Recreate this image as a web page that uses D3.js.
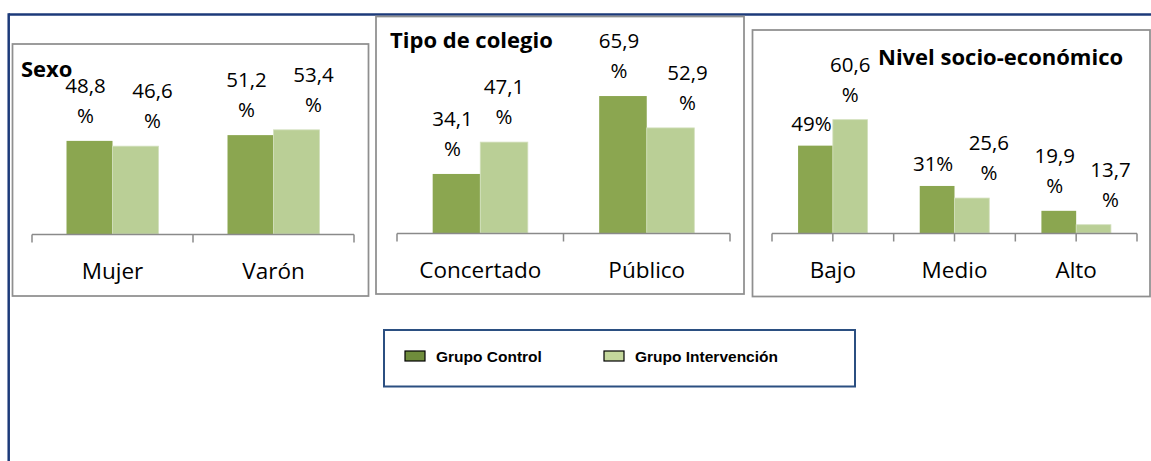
<!DOCTYPE html>
<html>
<head>
<meta charset="utf-8">
<script src="https://cdn.jsdelivr.net/npm/d3@7"></script>
<style>
  html, body { margin: 0; padding: 0; background: #fff; }
  svg { display: block; }
</style>
</head>
<body>
<svg id="chart" width="1151" height="461"></svg>
<script>
// ---------- DATA ----------
const seriesNames = ["Grupo Control", "Grupo Intervención"];
const panelTitles = ["Sexo", "Tipo de colegio", "Nivel socio-económico"];

const categoriesSexo = ["Mujer", "Varón"];
const controlSexo = [48.8, 51.2];
const intervencionSexo = [46.6, 53.4];

const categoriesColegio = ["Concertado", "Público"];
const controlColegio = [34.1, 65.9];
const intervencionColegio = [47.1, 52.9];

const categoriesNivel = ["Bajo", "Medio", "Alto"];
const controlNivel = [49, 31, 19.9];
const intervencionNivel = [60.6, 25.6, 13.7];

const axisMin = [10, 10, 10];
const axisMax = [60, 70, 70];

// ---------- STYLE / LAYOUT ----------
const colors = ["#8ba650", "#bacf96"];
const legendColors = ["#6f8c3c", "#c4d79c"];
const navy = "#1c3a7a";
const boxGrey = "#8f8f8f";
const axisGrey = "#8a8a8a";

const panels = [
  { title: panelTitles[0], cats: categoriesSexo, ctrl: controlSexo, intv: intervencionSexo,
    box: [12.5, 44, 368.5, 296], xr: [32, 354], yr: [234, 114], titlePos: [21, 77], centerTicks: false },
  { title: panelTitles[1], cats: categoriesColegio, ctrl: controlColegio, intv: intervencionColegio,
    box: [376, 16.5, 744, 294], xr: [397, 730], yr: [233, 86], titlePos: [390, 48], centerTicks: false },
  { title: panelTitles[2], cats: categoriesNivel, ctrl: controlNivel, intv: intervencionNivel,
    box: [752.5, 30, 1150, 296.5], xr: [772, 1137], yr: [233, 98.6], titlePos: [878, 65], centerTicks: true }
];

const svg = d3.select("#chart");
svg.append("rect").attr("width", 1151).attr("height", 461).attr("fill", "#fff");

// outer navy frame (top and left)
svg.append("line").attr("x1", 8.7).attr("x2", 1151).attr("y1", 14.5).attr("y2", 14.5)
  .attr("stroke", navy).attr("stroke-width", 2.5);
svg.append("line").attr("x1", 8.7).attr("x2", 8.7).attr("y1", 13.3).attr("y2", 461)
  .attr("stroke", navy).attr("stroke-width", 2.5);

const fmt = v => Number.isInteger(v) ? [v + "%"] : [v.toFixed(1).replace(".", ","), "%"];
const GAP = 0.4286; // Excel gap width 150%

panels.forEach((p, pi) => {
  const g = svg.append("g");
  const [bx0, by0, bx1, by1] = p.box;
  g.append("rect").attr("x", bx0).attr("y", by0).attr("width", bx1 - bx0).attr("height", by1 - by0)
    .attr("fill", "#fff").attr("stroke", boxGrey).attr("stroke-width", 1.75);

  const x0 = d3.scaleBand().domain(p.cats).range(p.xr).paddingInner(GAP).paddingOuter(GAP / 2);
  const x1 = d3.scaleBand().domain([0, 1]).range([0, x0.bandwidth()]);
  const y = d3.scaleLinear().domain([axisMin[pi], axisMax[pi]]).range(p.yr);

  const rows = p.cats.map((c, i) => ({ cat: c, vals: [p.ctrl[i], p.intv[i]] }));

  // bars
  rows.forEach(r => {
    r.vals.forEach((v, s) => {
      g.append("rect")
        .attr("x", x0(r.cat) + x1(s))
        .attr("y", y(v))
        .attr("width", x1.bandwidth())
        .attr("height", y(axisMin[pi]) - y(v))
        .attr("fill", colors[s])
        .attr("stroke", s === 1 ? "#d3e0bd" : "none")
        .attr("stroke-width", s === 1 ? 0.8 : 0);
    });
  });

  // axis line + ticks
  const axisY = y(axisMin[pi]) + 0.5;
  g.append("line").attr("x1", p.xr[0]).attr("x2", p.xr[1]).attr("y1", axisY).attr("y2", axisY)
    .attr("stroke", axisGrey).attr("stroke-width", 1.5);
  const step = x0.step();
  const tickXs = d3.range(p.cats.length + 1).map(i => p.xr[0] + i * step);
  if (p.centerTicks) p.cats.forEach(c => tickXs.push(x0(c) + x0.bandwidth() / 2));
  tickXs.forEach(tx => {
    g.append("line").attr("x1", tx).attr("x2", tx).attr("y1", axisY).attr("y2", axisY + 8)
      .attr("stroke", axisGrey).attr("stroke-width", 1.5);
  });

  // category labels via d3 axis
  const ax = g.append("g").attr("transform", `translate(0,${axisY})`)
    .call(d3.axisBottom(x0).tickSize(0).tickPadding(0));
  ax.select(".domain").remove();
  ax.selectAll("text")
    .attr("dy", null).attr("y", 44)
    .attr("font-family", "'Open Sans', sans-serif").attr("font-size", 22.5).attr("fill", "#000");

  // data labels
  rows.forEach(r => {
    r.vals.forEach((v, s) => {
      const lines = fmt(v);
      let dx = s === 0 ? -4 : 17;
      if (s === 1 && r.vals[1] - r.vals[0] > 8) dx = 0;
      const cx = x0(r.cat) + x1(s) + x1.bandwidth() / 2 + dx;
      const top = y(v);
      const t = g.append("text")
        .attr("text-anchor", "middle")
        .attr("font-family", "'Open Sans', sans-serif").attr("font-size", 20.5).attr("fill", "#000");
      if (lines.length === 2) {
        t.append("tspan").attr("x", cx).attr("y", top - 48).text(lines[0]);
        t.append("tspan").attr("x", cx).attr("y", top - 18).text(lines[1]);
      } else {
        t.append("tspan").attr("x", cx).attr("y", top - 15).text(lines[0]);
      }
    });
  });

  // panel title
  g.append("text").attr("x", p.titlePos[0]).attr("y", p.titlePos[1])
    .attr("font-family", "'Open Sans', sans-serif").attr("font-weight", "bold").attr("font-size", 22)
    .attr("fill", "#000").text(p.title);
});

// legend
const lg = svg.append("g");
lg.append("rect").attr("x", 384).attr("y", 330).attr("width", 471).attr("height", 56.5)
  .attr("fill", "#fff").attr("stroke", "#2b4f81").attr("stroke-width", 2);
const legendX = [405, 604];
seriesNames.forEach((name, i) => {
  lg.append("rect").attr("x", legendX[i]).attr("y", 351).attr("width", 20).attr("height", 10)
    .attr("fill", legendColors[i]).attr("stroke", "#000").attr("stroke-width", 1.2);
  lg.append("text").attr("x", legendX[i] + 31).attr("y", 361.5)
    .attr("font-family", "'Liberation Sans', Arial, sans-serif").attr("font-weight", "bold")
    .attr("font-size", 15.5).attr("fill", "#000").text(name);
});
</script>
</body>
</html>
